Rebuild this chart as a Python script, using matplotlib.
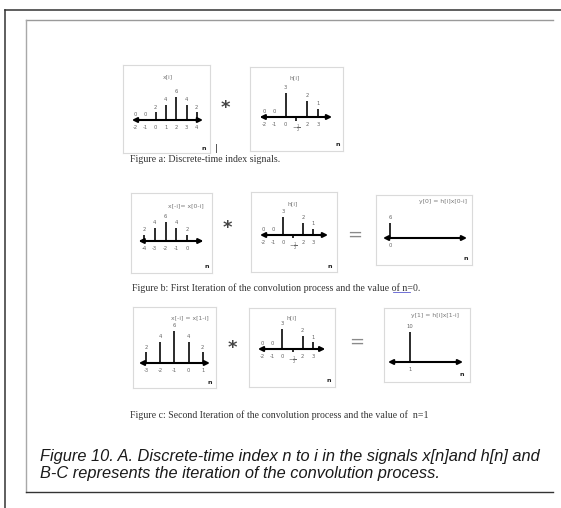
import matplotlib
matplotlib.use("Agg")
import matplotlib.pyplot as plt

W, H = 561, 508

# signal values
xa_idx = [-2, -1, 0, 1, 2, 3, 4]
xa_vals = [0, 0, 2, 4, 6, 4, 2]
h_idx = [-2, -1, 0, 1, 2, 3]
h_vals = [0, 0, 3, -0.5, 2, 1]
xb_idx = [-4, -3, -2, -1, 0]
xb_vals = [2, 4, 6, 4, 2]
y0_idx = [0]
y0_vals = [6]
xc_idx = [-3, -2, -1, 0, 1]
xc_vals = [2, 4, 6, 4, 2]
y1_idx = [1]
y1_vals = [10]

fig = plt.figure(figsize=(W / 100, H / 100), dpi=100)
bg = fig.add_axes([0, 0, 1, 1])
bg.set_xlim(0, W)
bg.set_ylim(H, 0)
bg.axis('off')

# page frames
bg.plot([5, W], [10, 10], color='#333333', lw=1.1)
bg.plot([5, 5], [10, H], color='#333333', lw=1.1)
bg.plot([26, 553], [20, 20], color='#9a9a9a', lw=1.0)
bg.plot([26, 26], [20, 492], color='#a8a8a8', lw=1.0)
bg.plot([26, 553], [492, 492], color='#333333', lw=1.0)


def panel(box, first, px, dx, py, dy, idx, vals, span, ticks=True):
    x0, y0, x1, y1 = box
    ax = fig.add_axes([x0 / W, 1 - y1 / H, (x1 - x0) / W, (y1 - y0) / H])
    ax.patch.set_alpha(0)
    ax.set_xlim(first - (px - x0) / dx, first + (x1 - px) / dx)
    ax.set_ylim(-(y1 - py) / dy, (py - y0) / dy)
    ax.set_xticks([])
    ax.set_yticks([])
    for s in ax.spines.values():
        s.set_color('#dadada')
        s.set_linewidth(0.8)
    ax.annotate('', xy=(span[1], 0), xytext=(span[0], 0),
                arrowprops=dict(arrowstyle='<|-|>', color='black', lw=1.5,
                                mutation_scale=7, shrinkA=0, shrinkB=0))
    ax.vlines(idx, 0, vals, color='#1a1a1a', lw=1.3)
    for i, v in zip(idx, vals):
        if v < 0:
            ax.annotate(r'$-\frac{1}{2}$', (i, 0), xytext=(0, -3.5),
                        textcoords='offset points', ha='center', va='top',
                        fontsize=3.8, color='#666666')
            continue
        lab = str(int(v)) if v == int(v) else str(v)
        ax.annotate(lab, (i, v), xytext=(0, 2), textcoords='offset points',
                    ha='center', va='bottom', fontsize=3.8, color='#666666')
        if ticks:
            ax.annotate(str(i), (i, 0), xytext=(0, -3.5),
                        textcoords='offset points', ha='center', va='top',
                        fontsize=3.8, color='#666666')
    return ax


def small(x, y, s, **kw):
    bg.text(x, y, s, ha='center', va='center', fontsize=kw.pop('size', 4.4),
            color=kw.pop('color', '#777777'), **kw)


capsmall = dict(fontsize=7.1, family='Liberation Serif', color='#333333', va='center')

# row a
panel((123, 65, 210, 153), -2, 135, 10.3, 120, 3.8, xa_idx, xa_vals, (-2.3, 4.6))
small(168, 77, 'x[i]')
small(204, 148, 'n', color='#222222', size=4.6, fontweight='bold')
bg.plot([216, 216], [144, 152], color='#555555', lw=0.7)
small(225, 108, '*', color='#444444', size=13, fontweight='bold')
panel((250, 67, 343, 151), -2, 264, 10.8, 117, 8.0, h_idx, h_vals, (-2.4, 4.3))
small(295, 78, 'h[i]')
small(338, 145, 'n', color='#222222', size=4.6, fontweight='bold')
bg.text(130, 160, 'Figure a: Discrete-time index signals.', **capsmall)

# row b
panel((131, 193, 212, 273), -4, 144, 10.8, 241, 3.2, xb_idx, xb_vals, (-4.5, 1.5))
small(186, 206, 'x[-i]= x[0-i]')
small(207, 266, 'n', color='#222222', size=4.6, fontweight='bold')
small(227, 228, '*', color='#444444', size=13, fontweight='bold')
panel((251, 192, 337, 272), -2, 263, 10.0, 235, 6.0, h_idx, h_vals, (-2.3, 4.5))
small(293, 204, 'h[i]')
small(330, 266, 'n', color='#222222', size=4.6, fontweight='bold')
small(355, 235, '=', color='#8a8a8a', size=13)
panel((376, 195, 472, 265), 0, 390, 10.0, 238, 2.5, y0_idx, y0_vals, (-0.7, 7.7))
small(443, 202, 'y[0] = h[i]x[0-i]')
small(466, 258, 'n', color='#222222', size=4.6, fontweight='bold')
bg.text(132, 288, 'Figure b: First Iteration of the convolution process and the value of n=0.',
        **capsmall)
bg.plot([393, 410], [292, 292], color='#5a5ad0', lw=0.6)

# row c
panel((133, 307, 216, 388), -3, 146, 14.2, 363, 5.3, xc_idx, xc_vals, (-3.5, 1.5))
small(190, 318, 'x[-i] = x[1-i]')
small(210, 382, 'n', color='#222222', size=4.6, fontweight='bold')
small(232, 348, '*', color='#444444', size=13, fontweight='bold')
panel((249, 308, 335, 387), -2, 262, 10.2, 349, 6.7, h_idx, h_vals, (-2.4, 4.2))
small(292, 318, 'h[i]')
small(329, 381, 'n', color='#222222', size=4.6, fontweight='bold')
small(357, 342, '=', color='#8a8a8a', size=13)
panel((384, 308, 470, 382), 1, 410, 10.0, 362, 3.0, y1_idx, y1_vals, (-1.2, 6.3))
small(435, 315, 'y[1] = h[i]x[1-i]')
small(462, 375, 'n', color='#222222', size=4.6, fontweight='bold')
bg.text(130, 415, 'Figure c: Second Iteration of the convolution process and the value of  n=1',
        **capsmall)

# main caption
cap = dict(fontsize=11.8, family='Liberation Sans', style='italic', color='#1a1a1a',
           va='baseline')
bg.text(40, 461, 'Figure 10. A. Discrete-time index n to i in the signals x[n]and h[n] and', **cap)
bg.text(40, 478, 'B-C represents the iteration of the convolution process.', **cap)

fig.savefig('out.png', dpi=100)
